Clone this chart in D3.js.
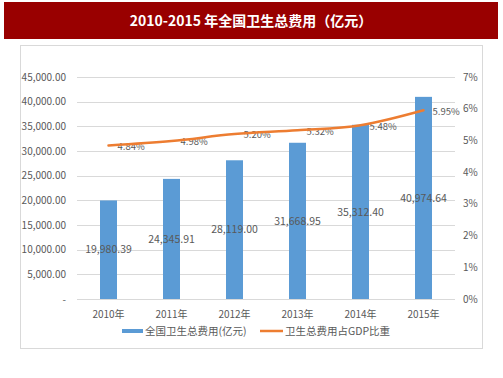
<!DOCTYPE html>
<html>
<head>
<meta charset="utf-8">
<script src="https://cdn.jsdelivr.net/npm/d3@7"></script>
<style>
  body { margin: 0; background: #fff; }
  text { font-family: "Noto Sans CJK SC", "Noto Sans", sans-serif; }
</style>
</head>
<body>
<div id="chart"></div>
<script>
// Data
var years = ["2010年", "2011年", "2012年", "2013年", "2014年", "2015年"];
var spending = [19980.39, 24345.91, 28119.00, 31668.95, 35312.40, 40974.64];
var gdpShare = [4.84, 4.98, 5.20, 5.32, 5.48, 5.95];
var leftTicks = [0, 5000, 10000, 15000, 20000, 25000, 30000, 35000, 40000, 45000];
var rightTicks = [0, 1, 2, 3, 4, 5, 6, 7];
var seriesNames = ["全国卫生总费用(亿元)", "卫生总费用占GDP比重"];

var svgWidth = 503, svgHeight = 378;
var margin = {top: 77, right: 48, bottom: 79, left: 77};
var width = svgWidth - margin.left - margin.right;
var height = svgHeight - margin.top - margin.bottom;

var svg = d3.select("#chart").append("svg")
    .attr("width", svgWidth)
    .attr("height", svgHeight);

// Title bar
svg.append("rect")
    .attr("x", 4).attr("y", 2)
    .attr("width", 494).attr("height", 37)
    .attr("fill", "#990000");
svg.append("text")
    .attr("x", 251).attr("y", 21)
    .attr("dy", "0.35em")
    .attr("text-anchor", "middle")
    .attr("fill", "#fff")
    .style("font-size", "14px")
    .style("font-weight", "bold")
    .text("2010-2015 年全国卫生总费用（亿元）");

// Chart frame
svg.append("rect")
    .attr("x", 20.5).attr("y", 45.5)
    .attr("width", 462).attr("height", 303)
    .attr("fill", "none")
    .attr("stroke", "#d9d9d9");

var chartGroup = svg.append("g")
    .attr("transform", `translate(${margin.left}, ${margin.top})`);

var xScale = d3.scaleBand().domain(years).range([0, width]);
var yScale = d3.scaleLinear().domain([0, 45000]).range([height, 0]);
var y2Scale = d3.scaleLinear().domain([0, 7]).range([height, 0]);

// Gridlines
chartGroup.selectAll(".grid")
    .data(leftTicks)
    .enter().append("line")
    .attr("x1", 0).attr("x2", width)
    .attr("y1", d => Math.round(yScale(d)) + 0.5)
    .attr("y2", d => Math.round(yScale(d)) + 0.5)
    .attr("stroke", "#d9d9d9")
    .attr("stroke-width", 1);

// Left axis labels
var fmt = d3.format(",.2f");
chartGroup.selectAll(".ly")
    .data(leftTicks)
    .enter().append("text")
    .attr("x", -11)
    .attr("y", d => yScale(d))
    .attr("dy", "0.35em")
    .attr("text-anchor", "end")
    .attr("fill", "#595959")
    .style("font-size", "10px")
    .text(d => d === 0 ? "-" : fmt(d));

// Right axis labels
chartGroup.selectAll(".ry")
    .data(rightTicks)
    .enter().append("text")
    .attr("x", width + 8)
    .attr("y", d => y2Scale(d))
    .attr("dy", "0.35em")
    .attr("text-anchor", "start")
    .attr("fill", "#595959")
    .style("font-size", "10px")
    .text(d => d + "%");

// Bars
var barW = 17;
chartGroup.selectAll(".bar")
    .data(spending)
    .enter().append("rect")
    .attr("x", (d, i) => xScale(years[i]) + xScale.bandwidth() / 2 - barW / 2)
    .attr("y", d => yScale(d))
    .attr("width", barW)
    .attr("height", d => height - yScale(d))
    .attr("fill", "#5b9bd5");

// Bar labels
chartGroup.selectAll(".barLabel")
    .data(spending)
    .enter().append("text")
    .attr("x", (d, i) => xScale(years[i]) + xScale.bandwidth() / 2)
    .attr("y", d => (yScale(d) + height) / 2)
    .attr("dy", "0.35em")
    .attr("text-anchor", "middle")
    .attr("fill", "#595959")
    .style("font-size", "10.5px")
    .text(d => fmt(d));

// Line labels
chartGroup.selectAll(".lineLabel")
    .data(gdpShare)
    .enter().append("text")
    .attr("x", (d, i) => xScale(years[i]) + xScale.bandwidth() / 2 + 9)
    .attr("y", d => y2Scale(d) + 1)
    .attr("dy", "0.35em")
    .attr("text-anchor", "start")
    .attr("fill", "#595959")
    .style("font-size", "9.5px")
    .text(d => d.toFixed(2) + "%");

// Line
var line = d3.line()
    .x((d, i) => xScale(years[i]) + xScale.bandwidth() / 2)
    .y(d => y2Scale(d))
    .curve(d3.curveMonotoneX);
chartGroup.append("path")
    .datum(gdpShare)
    .attr("d", line)
    .attr("fill", "none")
    .attr("stroke", "#ed7d31")
    .attr("stroke-width", 2.5)
    .attr("stroke-linecap", "round");

// X labels
chartGroup.selectAll(".xl")
    .data(years)
    .enter().append("text")
    .attr("x", d => xScale(d) + xScale.bandwidth() / 2)
    .attr("y", height + 15)
    .attr("dy", "0.35em")
    .attr("text-anchor", "middle")
    .attr("fill", "#595959")
    .style("font-size", "10px")
    .text(d => d);

// Legend
var legend = svg.append("g");
legend.append("rect")
    .attr("x", 122).attr("y", 329)
    .attr("width", 21).attr("height", 4)
    .attr("fill", "#5b9bd5");
legend.append("text")
    .attr("x", 145).attr("y", 331)
    .attr("dy", "0.35em")
    .attr("fill", "#595959")
    .style("font-size", "10.5px")
    .text(seriesNames[0]);
legend.append("line")
    .attr("x1", 260).attr("x2", 283)
    .attr("y1", 331).attr("y2", 331)
    .attr("stroke", "#ed7d31")
    .attr("stroke-width", 2.5);
legend.append("text")
    .attr("x", 285).attr("y", 331)
    .attr("dy", "0.35em")
    .attr("fill", "#595959")
    .style("font-size", "10.5px")
    .text(seriesNames[1]);
</script>
</body>
</html>
